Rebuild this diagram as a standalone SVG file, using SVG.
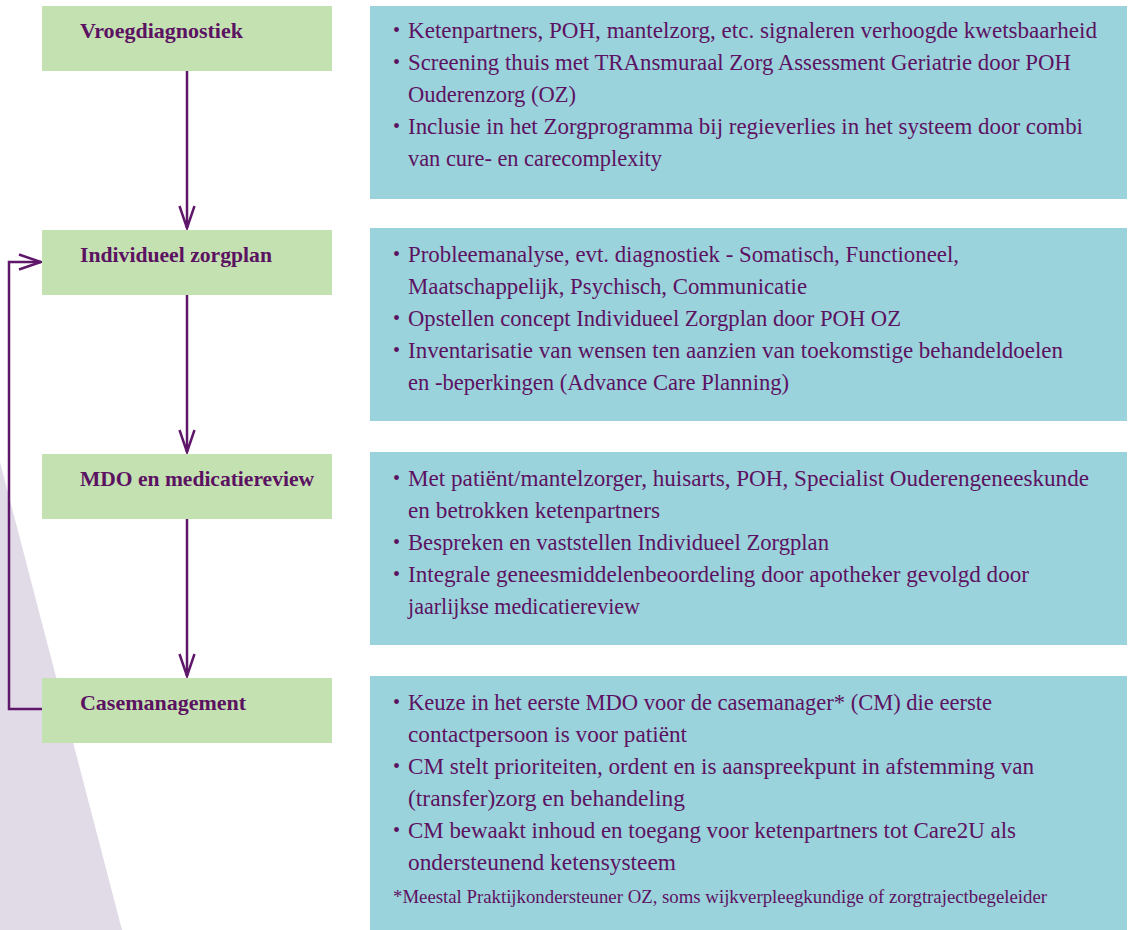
<svg xmlns="http://www.w3.org/2000/svg" width="1130" height="930" viewBox="0 0 1130 930">
<defs>
<style>
.step{fill:#c4e1b2}
.info{fill:#9bd3dc}
.title{font-family:"Liberation Serif",serif;font-weight:bold;font-size:22px;fill:#5b1261}
.txt{font-family:"Liberation Serif",serif;font-size:23px;fill:#5b1261}
.bul{font-family:"Liberation Serif",serif;font-size:20px;fill:#5b1261}
.note{font-family:"Liberation Serif",serif;font-size:18.5px;fill:#5b1261}
.conn{fill:none;stroke:#5f176a;stroke-width:2.5}
</style>
<marker id="arr" viewBox="0 0 26 20" refX="23" refY="10" markerWidth="26" markerHeight="20" markerUnits="userSpaceOnUse" orient="auto">
<path d="M1,2.5 L23,10 L1,17.5" fill="none" stroke="#5f176a" stroke-width="2.5"/>
</marker>
</defs>
<rect width="1130" height="930" fill="#ffffff"/>
<polygon points="0,462 122,930 0,930" fill="#e1dbe8"/>

<g id="connectors">
<line class="conn" x1="187" y1="71" x2="187" y2="228" marker-end="url(#arr)"/>
<line class="conn" x1="187" y1="295" x2="187" y2="452" marker-end="url(#arr)"/>
<line class="conn" x1="187" y1="519" x2="187" y2="676" marker-end="url(#arr)"/>
<polyline class="conn" points="42,709 9,709 9,262 41,262" marker-end="url(#arr)"/>
</g>

<g id="vroegdiagnostiek">
<rect class="step" x="42" y="6" width="290" height="65"/>
<text class="title" x="80" y="38" textLength="163" lengthAdjust="spacingAndGlyphs">Vroegdiagnostiek</text>
</g>
<g id="vroegdiagnostiek-info">
<rect class="info" x="370" y="6" width="757" height="193"/>
<text class="bul" x="393" y="37">•</text><text class="txt" x="408" y="38" textLength="689" lengthAdjust="spacingAndGlyphs">Ketenpartners, POH, mantelzorg, etc. signaleren verhoogde kwetsbaarheid</text>
<text class="bul" x="393" y="69">•</text><text class="txt" x="408" y="70" textLength="663" lengthAdjust="spacingAndGlyphs">Screening thuis met TRAnsmuraal Zorg Assessment Geriatrie door POH</text>
<text class="txt" x="408" y="102" textLength="168" lengthAdjust="spacingAndGlyphs">Ouderenzorg (OZ)</text>
<text class="bul" x="393" y="133">•</text><text class="txt" x="408" y="134" textLength="675" lengthAdjust="spacingAndGlyphs">Inclusie in het Zorgprogramma bij regieverlies in het systeem door combi</text>
<text class="txt" x="408" y="166" textLength="254" lengthAdjust="spacingAndGlyphs">van cure- en carecomplexity</text>
</g>

<g id="zorgplan">
<rect class="step" x="42" y="230" width="290" height="65"/>
<text class="title" x="80" y="262" textLength="192" lengthAdjust="spacingAndGlyphs">Individueel zorgplan</text>
</g>
<g id="zorgplan-info">
<rect class="info" x="370" y="228" width="757" height="193"/>
<text class="bul" x="393" y="261">•</text><text class="txt" x="408" y="262" textLength="551" lengthAdjust="spacingAndGlyphs">Probleemanalyse, evt. diagnostiek - Somatisch, Functioneel,</text>
<text class="txt" x="408" y="294" textLength="399" lengthAdjust="spacingAndGlyphs">Maatschappelijk, Psychisch, Communicatie</text>
<text class="bul" x="393" y="325">•</text><text class="txt" x="408" y="326" textLength="493" lengthAdjust="spacingAndGlyphs">Opstellen concept Individueel Zorgplan door POH OZ</text>
<text class="bul" x="393" y="357">•</text><text class="txt" x="408" y="358" textLength="655" lengthAdjust="spacingAndGlyphs">Inventarisatie van wensen ten aanzien van toekomstige behandeldoelen</text>
<text class="txt" x="408" y="390" textLength="381" lengthAdjust="spacingAndGlyphs">en -beperkingen (Advance Care Planning)</text>
</g>

<g id="mdo">
<rect class="step" x="42" y="454" width="290" height="65"/>
<text class="title" x="80" y="486" textLength="234" lengthAdjust="spacingAndGlyphs">MDO en medicatiereview</text>
</g>
<g id="mdo-info">
<rect class="info" x="370" y="452" width="757" height="193"/>
<text class="bul" x="393" y="485">•</text><text class="txt" x="408" y="486" textLength="681" lengthAdjust="spacingAndGlyphs">Met patiënt/mantelzorger, huisarts, POH, Specialist Ouderengeneeskunde</text>
<text class="txt" x="408" y="518" textLength="252" lengthAdjust="spacingAndGlyphs">en betrokken ketenpartners</text>
<text class="bul" x="393" y="549">•</text><text class="txt" x="408" y="550" textLength="421" lengthAdjust="spacingAndGlyphs">Bespreken en vaststellen Individueel Zorgplan</text>
<text class="bul" x="393" y="581">•</text><text class="txt" x="408" y="582" textLength="621" lengthAdjust="spacingAndGlyphs">Integrale geneesmiddelenbeoordeling door apotheker gevolgd door</text>
<text class="txt" x="408" y="614" textLength="232" lengthAdjust="spacingAndGlyphs">jaarlijkse medicatiereview</text>
</g>

<g id="casemanagement">
<rect class="step" x="42" y="678" width="290" height="65"/>
<text class="title" x="80" y="710" textLength="166" lengthAdjust="spacingAndGlyphs">Casemanagement</text>
</g>
<g id="casemanagement-info">
<rect class="info" x="370" y="676" width="757" height="254"/>
<text class="bul" x="393" y="709">•</text><text class="txt" x="408" y="710" textLength="584" lengthAdjust="spacingAndGlyphs">Keuze in het eerste MDO voor de casemanager* (CM) die eerste</text>
<text class="txt" x="408" y="742" textLength="279" lengthAdjust="spacingAndGlyphs">contactpersoon is voor patiënt</text>
<text class="bul" x="393" y="773">•</text><text class="txt" x="408" y="774" textLength="626" lengthAdjust="spacingAndGlyphs">CM stelt prioriteiten, ordent en is aanspreekpunt in afstemming van</text>
<text class="txt" x="408" y="806" textLength="277" lengthAdjust="spacingAndGlyphs">(transfer)zorg en behandeling</text>
<text class="bul" x="393" y="837">•</text><text class="txt" x="408" y="838" textLength="608" lengthAdjust="spacingAndGlyphs">CM bewaakt inhoud en toegang voor ketenpartners tot Care2U als</text>
<text class="txt" x="408" y="870" textLength="268" lengthAdjust="spacingAndGlyphs">ondersteunend ketensysteem</text>
<text class="note" x="393" y="903" textLength="654" lengthAdjust="spacingAndGlyphs">*Meestal Praktijkondersteuner OZ, soms wijkverpleegkundige of zorgtrajectbegeleider</text>
</g>
</svg>
